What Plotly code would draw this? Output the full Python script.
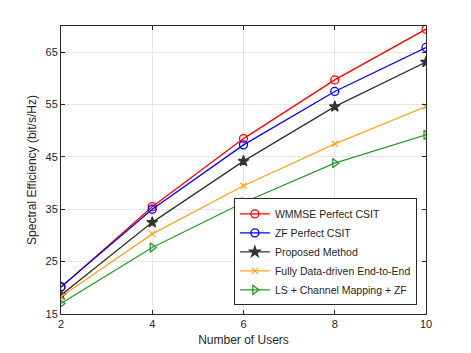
import plotly.graph_objects as go

users = [2, 4, 6, 8, 10]

wmmse = [20.1, 35.5, 48.5, 59.7, 69.4]
zf = [20.2, 35.0, 47.3, 57.5, 65.9]
proposed = [18.6, 32.5, 44.2, 54.6, 63.1]
fully_dd = [18.3, 30.3, 39.5, 47.5, 54.6]
ls_map_zf = [17.0, 27.7, 36.3, 43.8, 49.2]

series = [
    ("WMMSE Perfect CSIT", wmmse, "#ff0000", "circle-open", 8),
    ("ZF Perfect CSIT", zf, "#0000ff", "circle-open", 8),
    ("Proposed Method", proposed, "#333333", "star", 8),
    ("Fully Data-driven End-to-End", fully_dd, "#ffa51f", "x-thin-open", 6),
    ("LS + Channel Mapping + ZF", ls_map_zf, "#2a9a2a", "triangle-right-open", 8),
]

fig = go.Figure()
for name, vals, color, sym, sz in series:
    fig.add_trace(go.Scatter(
        x=users, y=vals, mode="lines+markers", name=name,
        line=dict(color=color, width=1.3),
        marker=dict(symbol=sym, size=sz, color=color, line=dict(color=color, width=1.3)),
    ))

axis_style = dict(
    showline=True, linecolor="#262626", linewidth=1, mirror="ticks",
    ticks="inside", ticklen=4, tickcolor="#262626",
    showgrid=True, gridcolor="#e6e6e6", gridwidth=1,
    zeroline=False, tickfont=dict(size=11, color="#262626"),
    automargin=False,
)

fig.update_xaxes(range=[2, 10], tickvals=[2, 4, 6, 8, 10],
                 title=dict(text="Number of Users", font=dict(size=12, color="#262626"), standoff=6),
                 **axis_style)
fig.update_yaxes(range=[15, 70], tickvals=[15, 25, 35, 45, 55, 65],
                 title=dict(text="Spectral Efficiency (bit/s/Hz)", font=dict(size=12, color="#262626"), standoff=6),
                 **axis_style)

# page has an 8px body margin, so the figure is a bit smaller than the window
fig.update_layout(
    width=463, height=345,
    margin=dict(l=53, r=45, t=18, b=39),
    plot_bgcolor="white", paper_bgcolor="white",
    font=dict(family="Liberation Sans, Arial, sans-serif", color="#262626"),
    legend=dict(
        x=0.975, y=0.03, xanchor="right", yanchor="bottom",
        bgcolor="white", bordercolor="#262626", borderwidth=1,
        font=dict(size=10.5, color="#262626"),
        tracegroupgap=0, itemwidth=30,
    ),
)

fig.write_html("out.html")
